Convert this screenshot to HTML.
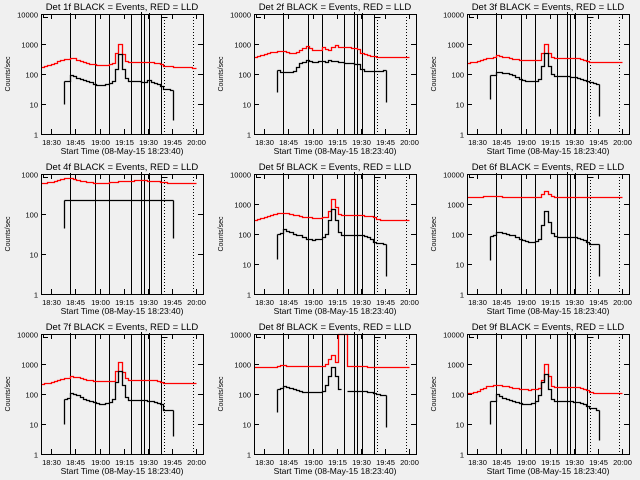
<!DOCTYPE html>
<html><head><meta charset="utf-8"><style>
body{margin:0;background:#f0f0f0;}
svg{display:block;font-family:"Liberation Sans",sans-serif;}
</style></head><body>
<svg id="c" width="640" height="480" viewBox="0 0 640 480" xmlns="http://www.w3.org/2000/svg">
<rect width="640" height="480" fill="#f0f0f0"/>
</svg>
<script>
const times=[0,2,4,6,8,10,12,14,16,18,20,22,24,26,28,30,32,34,36,38,40,42,44,46,48,50,52,54,56,58,60,62,64,66,68,70,72,74,76,78,80,82,84,86,88,90,92,94];
const tickLabels=["18:30","18:45","19:00","19:15","19:30","19:45","20:00"];
const tickTimes=[6.33,21.33,36.33,51.33,66.33,81.33,96.33];
const solidLines=[18.2,33.4,42.0,55.7,62.3,64.2,67.3,74.3];
const dottedLines=[76.6,94.6];
const N=null;
const R1=[170,180,200,220,240,270,300,310,310,350,330,300,270,250,230,220,210,200,200,200,200,210,230,500,1000,450,280,260,260,260,260,250,250,250,250,240,240,220,190,180,180,170,170,170,170,165,165,160];
const B1=[N,N,N,N,N,N,N,60,60,90,85,75,70,65,60,55,45,42,42,44,45,50,60,150,480,150,75,60,58,58,60,55,55,62,55,52,48,40,32,32,30,N,N,N,N,N,N,N];
const R2=[380,400,420,460,500,530,560,580,600,580,540,520,520,560,650,750,850,750,640,640,650,780,700,650,800,950,780,770,780,770,760,750,700,520,450,420,400,390,380,380,370,370,370,360,370,370,370,370];
const B2=[N,N,N,N,N,N,N,140,120,120,115,120,130,170,230,260,300,270,260,260,280,270,250,300,280,270,260,250,240,230,230,220,210,150,125,125,130,130,130,130,135,N,N,N,N,N,N,N];
const R3=[240,250,260,280,300,320,340,350,360,420,400,380,360,340,320,310,300,300,290,290,290,290,300,500,1000,500,360,350,350,350,350,350,340,330,330,320,300,280,250,245,245,245,245,245,245,245,245,245];
const B3=[N,N,N,N,N,N,N,90,95,120,115,110,105,100,90,80,70,62,60,58,58,60,70,180,500,180,100,85,85,85,85,85,82,80,75,70,65,60,55,50,45,N,N,N,N,N,N,N];
const R4=[600,600,620,640,660,700,740,780,800,780,740,700,680,650,630,620,610,610,600,600,610,620,630,640,650,650,660,670,680,690,700,700,690,680,670,660,650,640,620,600,600,590,590,590,580,580,580,580];
const B4=[N,N,N,N,N,N,N,220,222,225,220,222,224,220,222,225,222,220,222,224,222,220,222,225,222,220,222,224,225,222,220,222,224,225,222,220,222,224,222,220,222,N,N,N,N,N,N,N];
const R5=[300,310,330,360,390,420,460,500,520,520,490,460,440,420,400,380,370,360,350,350,350,360,360,600,1500,800,480,440,440,440,440,440,430,420,410,400,390,360,310,300,300,300,300,300,300,300,300,300];
const B5=[N,N,N,N,N,N,N,100,110,150,130,120,100,95,90,80,70,68,65,68,70,80,100,300,700,300,120,95,95,95,95,95,95,90,88,80,70,55,50,50,48,N,N,N,N,N,N,N];
const R6=[1700,1700,1700,1700,1750,1800,1800,1800,1800,1800,1800,1750,1700,1700,1700,1700,1700,1700,1700,1700,1700,1700,1750,2200,2800,2100,1800,1700,1700,1700,1700,1700,1700,1700,1700,1700,1700,1700,1700,1700,1700,1700,1700,1700,1700,1700,1700,1700];
const B6=[N,N,N,N,N,N,N,85,90,120,115,110,100,95,90,80,70,62,58,55,56,60,70,200,600,250,110,85,80,82,82,82,80,78,75,70,65,55,48,45,45,N,N,N,N,N,N,N];
const R7=[220,230,240,250,270,290,320,340,350,400,380,360,340,320,300,290,280,270,270,270,270,270,280,600,1200,550,330,300,300,300,300,300,300,300,290,290,280,260,240,230,230,230,230,230,230,230,230,225];
const B7=[N,N,N,N,N,N,N,70,75,110,100,90,80,70,65,60,55,50,48,48,50,55,70,250,600,200,80,65,62,62,65,65,65,60,58,55,50,45,30,30,30,N,N,N,N,N,N,N];
const R8=[800,780,800,800,800,800,820,850,900,900,880,860,850,850,850,840,830,850,850,850,850,860,1000,1500,2000,1200,10000,10000,10000,850,850,850,850,840,830,820,820,810,800,800,800,800,800,800,800,790,790,790];
const B8=[N,N,N,N,N,N,N,150,160,180,170,160,150,140,130,120,115,115,115,115,120,130,200,400,800,400,150,N,N,130,130,130,130,130,125,120,120,110,100,95,90,N,N,N,N,N,N,N];
const R9=[105,110,120,130,150,160,180,190,200,200,200,190,180,170,160,155,150,145,145,140,145,150,160,300,1000,400,180,170,170,170,170,170,170,170,165,160,150,140,115,110,110,110,110,105,105,105,105,105];
const B9=[N,N,N,N,N,N,N,60,60,100,85,75,68,62,58,55,50,48,45,46,50,60,90,250,450,150,70,60,58,58,60,60,58,55,55,50,45,40,35,33,30,N,N,N,N,N,N,N];
const redSeries=[R1,R2,R3,R4,R5,R6,R7,R8,R9];
const blackSeries=[B1,B2,B3,B4,B5,B6,B7,B8,B9];
const blackLows=[[10,3],[25,12],[15,4],[45,25],[15,4],[14,4],[10,4],[25,8],[10,3]];
const yMaxDecades=[4,4,4,3,4,4,4,4,4];
const detNames=["1f","2f","3f","4f","5f","6f","7f","8f","9f"];

const svg=document.getElementById('c');
const NS='http://www.w3.org/2000/svg';
function mk(tag,attrs,parent){const e=document.createElementNS(NS,tag);for(const k in attrs)e.setAttribute(k,attrs[k]);(parent||svg).appendChild(e);return e;}
const colX=[41,254,467], rowY=[14,174,334], W=162, H=120, TSPAN=100.6;
for(let p=0;p<9;p++){
  const x0=colX[p%3], y0=rowY[Math.floor(p/3)], dmax=yMaxDecades[p];
  const xs=t=>Math.round(x0+t*W/TSPAN)+0.5;
  const ys=v=>Math.round(y0+H-(Math.log10(Math.max(v,1))/dmax)*H)+0.5;
  const g=mk('g',{});
  
  
  const cp=mk('clipPath',{id:'cp'+p},g);
  mk('rect',{x:x0,y:y0-1,width:W+1,height:H+2},cp);
  const ti=mk('text',{x:x0+W/2,y:y0-4,'text-anchor':'middle','font-size':'9.5'},g);
  ti.textContent='Det '+detNames[p]+' BLACK = Events, RED = LLD';
  
  
  const yl=mk('text',{x:0,y:0,'text-anchor':'middle','font-size':'7',transform:`translate(${x0-31},${y0+H/2}) rotate(-90)`},g);
  yl.textContent='Counts/sec';
  
  
  for(let d=0;d<=dmax;d++){
    const y=Math.round(y0+H-d/dmax*H)+0.5;
    const tl=mk('text',{x:x0-3,y:y+3,'text-anchor':'end','font-size':'7.5'},g);
    tl.textContent=String(Math.pow(10,d));
    
    
    mk('line',{x1:x0,y1:y,x2:x0+5,y2:y,stroke:'#000'},g);
    mk('line',{x1:x0+W,y1:y,x2:x0+W-5,y2:y,stroke:'#000'},g);
  }
  for(let i=0;i<tickTimes.length;i++){
    const x=xs(tickTimes[i]);
    mk('line',{x1:x,y1:y0+H,x2:x,y2:y0+H-5,stroke:'#000'},g);
    mk('line',{x1:x,y1:y0,x2:x,y2:y0+5,stroke:'#000'},g);
    const xl=mk('text',{x:x,y:y0+H+11,'text-anchor':'middle','font-size':'7.5'},g);
    xl.textContent=tickLabels[i];
    
    
  }
  const xt=mk('text',{x:x0+W/2,y:y0+H+20,'text-anchor':'middle','font-size':'8.5'},g);
  xt.textContent='Start Time (08-May-15 18:23:40)';
  
  
  const cg=mk('g',{'clip-path':`url(#cp${p})`},g);
  solidLines.forEach(t=>{const l=mk('line',{x1:xs(t),y1:y0,x2:xs(t),y2:y0+H,stroke:'#000','stroke-width':1},cg);
    
    });
  dottedLines.forEach(t=>{const l=mk('line',{x1:xs(t),y1:y0,x2:xs(t),y2:y0+H,stroke:'#000','stroke-dasharray':'1,2'},cg);
    
    });
  mk('path',{d:`M${x0+2.5} ${y0} V${y0+3.5} H${x0+7} M${xs(18.2)} ${y0+3.5} V${y0-1} M${xs(42)} ${y0} V${y0+3.5} M${xs(62.3)} ${y0-2} V${y0+3.5} M${xs(67.3)} ${y0-1} V${y0+3.5} M${xs(74.3)} ${y0} V${y0+3.5} H${xs(78)}`,fill:'none',stroke:'#000'},g);
  function stepPath(arr){let d='',on=false;
    for(let i=0;i<arr.length;i++){const v=arr[i];
      if(v==null){on=false;continue;}
      const x=xs(times[i]),x2=xs(times[i]+2),y=ys(v);
      d+=(on?'L':'M')+x+' '+y+'L'+x2+' '+y;on=true;}
    return d;}
  const rp=mk('path',{d:stepPath(redSeries[p]),fill:'none',stroke:'#ff0000','stroke-width':1.3,'clip-path':`url(#cp${p})`},g);
  
  
  const B=blackSeries[p];
  let first=B.findIndex(v=>v!=null), last=B.length-1-[...B].reverse().findIndex(v=>v!=null);
  let d=stepPath(B);
  d+=`M${xs(times[first])} ${ys(blackLows[p][0])}V${ys(B[first])}`;
  d+=`M${xs(times[last]+2)} ${ys(B[last])}V${ys(blackLows[p][1])}`;
  const bp=mk('path',{d:d,fill:'none',stroke:'#000','stroke-width':1.3,'clip-path':`url(#cp${p})`},g);
  
  
  const fr=mk('rect',{x:x0+0.5,y:y0+0.5,width:W,height:H,fill:'none',stroke:'#000'},g);
  
  
}
</script>
</body></html>
